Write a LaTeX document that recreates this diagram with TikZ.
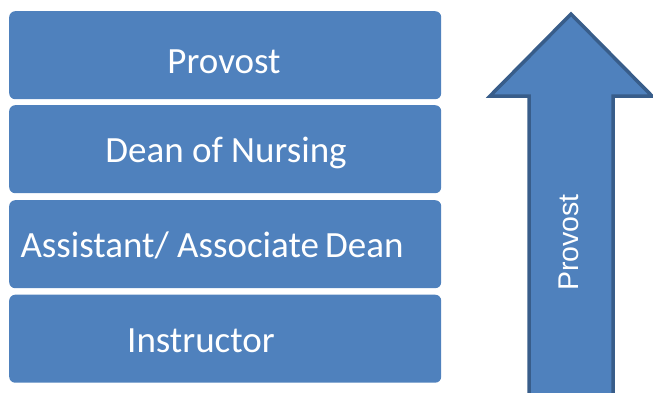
\documentclass[tikz,border=0pt]{standalone}
\usepackage{fontspec}
\setmainfont{Carlito}
\newfontfamily\arrowfont{Liberation Sans}
\definecolor{boxblue}{HTML}{4F81BD}
\definecolor{edgeblue}{HTML}{385D8A}
\begin{document}
\begin{tikzpicture}[x=1pt,y=1pt,
  levelbox/.style={fill=boxblue,draw=none,rounded corners=6pt,minimum width=432pt,minimum height=88pt,inner sep=0pt,anchor=north west},
  leveltext/.style={text=white,font=\fontsize{37}{44}\selectfont,anchor=base,inner sep=0pt},
  arrowtext/.style={text=white,font=\arrowfont\fontsize{28.5}{34}\selectfont,anchor=base,inner sep=0pt,rotate=90}]
\useasboundingbox (0,0) rectangle (653,-392);
\clip (0,0) rectangle (653,-392);
\node[levelbox] (b1) at (9,-11) {};
\node[levelbox] (b2) at (9,-105) {};
\node[levelbox] (b3) at (9,-200) {};
\node[levelbox] (b4) at (9,-294.5) {};
\node[leveltext] (t1) at (224,-73) {Provost};
\node[leveltext] (t2) at (226,-162) {Dean of Nursing};
\node[leveltext] (t3) at (212,-257) {Assistant/ Associate\,Dean};
\node[leveltext] (t4) at (201,-352) {Instructor};
\draw[fill=boxblue,draw=edgeblue,line width=3.5pt] (529,-400) -- (529,-96) -- (490,-96) -- (571,-14) -- (652,-96) -- (613,-96) -- (613,-400) -- cycle;
\node[arrowtext] (ta) at (578,-242.5) {Provost};
\end{tikzpicture}
\end{document}
